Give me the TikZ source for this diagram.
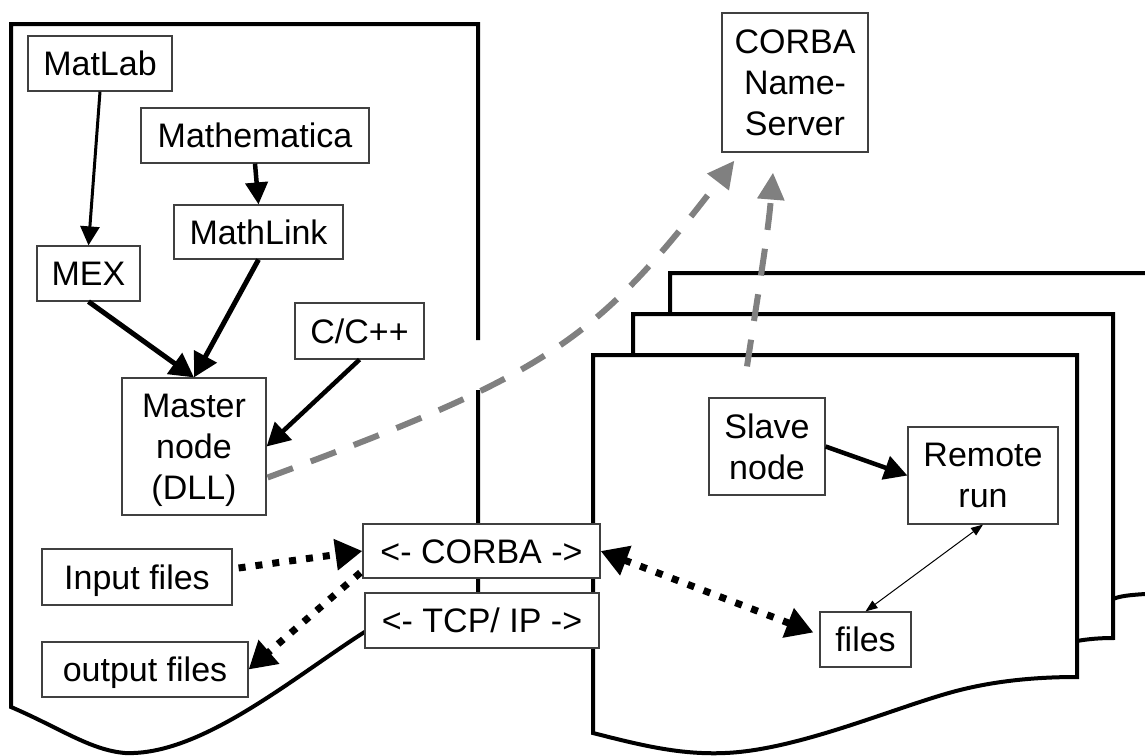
\documentclass[tikz,border=0pt]{standalone}
\usepackage{fontspec}
\setmainfont{Liberation Sans}
\usetikzlibrary{arrows.meta,calc}
\newcommand\figfont{\fontsize{34}{41}\selectfont}
\definecolor{dashgray}{HTML}{808080}
\tikzset{
  box/.style={draw=black!75, line width=1.2pt, fill=white, inner sep=0pt, font=\figfont},
  oneline/.style={box, text height=24.5pt, text depth=0pt},
  multiline/.style={box, align=center},
  docline/.style={draw=black, line width=4pt, line join=miter},
  docfill/.style={docline, fill=white},
  arrthin/.style={line width=3pt, -{Triangle[length=19pt,width=19pt]}},
  arrthick/.style={line width=5pt, -{Triangle[length=24pt,width=25pt]}},
  arrhair/.style={line width=1pt, {Triangle[length=12pt,width=9pt]}-{Triangle[length=12pt,width=9pt]}},
  dotline/.style={line width=7pt, dash pattern=on 7pt off 10pt},
  dottip/.style={Triangle[length=27pt,width=30pt]},
  grayarr/.style={draw=dashgray, line width=6pt, dash pattern=on 27pt off 19pt, -{Triangle[length=27pt,width=26pt]}}
}
\begin{document}
\begin{tikzpicture}[x=1pt,y=-1pt]
\useasboundingbox (0,0) rectangle (1145,755);

% slave documents (back to front)
\begin{scope}
\clip (0,0) rectangle (1145,755);
\path[docfill] (670,610) -- (670,273) -- (1170,273) -- (1170,594) -- (1145,594)
  .. controls (1130,595) and (1120,596) .. (1113,599) -- cycle;
\path[docfill] (633,650) -- (633,314) -- (1113,314) -- (1113,638)
  .. controls (1100,638) and (1088,639) .. (1077,641) -- cycle;
\path[docfill] (593,733) -- (593,355) -- (1077,355) -- (1077,677)
  .. controls (1040,677) and (1000,680) .. (960,690)
  .. controls (900,705) and (800,750) .. (725,753)
  .. controls (680,755) and (640,745) .. (593,733) -- cycle;
\end{scope}

% master document
\draw[docline] (478,340) -- (478,24) -- (11,24) -- (11,707)
  .. controls (60,728) and (90,750) .. (125,753)
  .. controls (200,756) and (290,680) .. (363,633)
  .. controls (400,610) and (440,603) .. (478,600) -- (478,390);

% nodes
\node[oneline, minimum width=144pt, minimum height=55pt] (matlab) at (100,63.5) {MatLab};
\node[oneline, minimum width=228pt, minimum height=55pt] (mathematica) at (255,135.5) {Mathematica};
\node[oneline, minimum width=169pt, minimum height=54pt] (mathlink) at (258.5,232) {MathLink};
\node[oneline, minimum width=103pt, minimum height=55pt] (mex) at (88.5,273.5) {MEX};
\node[oneline, minimum width=129pt, minimum height=56pt] (cc) at (359.5,331) {C/C++};
\node[multiline, minimum width=144pt, minimum height=137pt] (master) at (194,446.5) {Master\\node\\\raisebox{0pt}[\height][0pt]{(DLL)}};
\node[oneline, minimum width=190pt, minimum height=56pt] (input) at (137,577) {Input files};
\node[oneline, minimum width=206pt, minimum height=55pt] (output) at (145,669.5) {output files};
\node[oneline, minimum width=237pt, minimum height=54pt] (corba) at (481.5,551) {<- CORBA ->};
\node[oneline, minimum width=234pt, minimum height=55pt] (tcp) at (482,620.5) {<- TCP/ IP ->};
\node[multiline, minimum width=116pt, minimum height=97pt] (slave) at (767,446.5) {Slave\\node};
\node[multiline, minimum width=150pt, minimum height=97pt] (remote) at (983,475.5) {Remote\\run};
\node[oneline, minimum width=91pt, minimum height=55pt] (files) at (865.5,639.5) {files};
\node[multiline, minimum width=146pt, minimum height=139pt] (ns) at (795,82.5) {CORBA\\Name-\\Server};

% solid connectors
\draw[arrthin] (matlab.south) -- (mex.north);
\draw[line width=4.5pt, -{Triangle[length=22pt,width=22pt]}] (mathematica.south) -- (mathlink.north);
\draw[arrthick] (mex.south) -- (master.north);
\draw[arrthick] (mathlink.south) -- (master.north);
\draw[line width=4.5pt, -{Triangle[length=23pt,width=24pt]}] (cc.south) -- (master.east);
\draw[line width=4.5pt, -{Triangle[length=23pt,width=24pt]}] (slave.east) -- (remote.west);
\draw[arrhair] (remote.south) -- (files.north);

% dotted connectors
\draw[dotline, -{Triangle[length=27pt,width=30pt]}] ($(input.east)+(6,-9)$) -- ($(corba.west)+(0,0)$);
\draw[dotline, -{Triangle[length=27pt,width=30pt]}] ($(corba.south west)+(-2,-6)$) -- (output.east);
\draw[dotline, {Triangle[length=27pt,width=30pt]}-{Triangle[length=27pt,width=30pt]}] (corba.east) -- ($(files.west)+(-6,-7)$);

% gray dashed connectors
\coordinate (mstart) at ($(master.east)+(1,31)$);
\coordinate (nsleft) at ($(ns.south west)+(13,8)$);
\coordinate (sstart) at ($(slave.north)+(-20,-31)$);
\coordinate (nsmid) at ($(ns.south)+(-22,20)$);
\draw[grayarr] (mstart) .. controls (548,374) and (595,342) .. (nsleft);
\draw[grayarr] (sstart) .. controls (757,300) and (768,235) .. (nsmid);
\end{tikzpicture}
\end{document}
